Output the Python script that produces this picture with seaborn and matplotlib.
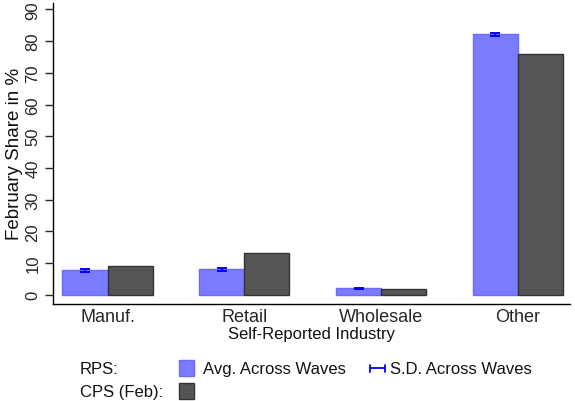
import pandas as pd
import seaborn as sns
import matplotlib.pyplot as plt
from matplotlib.patches import Rectangle
from matplotlib.lines import Line2D

# Datos
industrias = ['Manuf.', 'Retail', 'Wholesale', 'Other']
rps_media = [7.7, 8.0, 2.0, 82.1]
rps_sd = [0.35, 0.35, 0.2, 0.35]
cps_feb = [9.0, 13.3, 1.7, 75.8]
fuentes = ['RPS', 'CPS (Feb)']

color_rps = '#7b7bff'
color_cps = '#555555'

df = pd.DataFrame({
    'industria': industrias * 2,
    'share': rps_media + cps_feb,
    'fuente': [fuentes[0]] * 4 + [fuentes[1]] * 4,
})

sns.set_style('white')
plt.rcParams['font.family'] = ['Liberation Sans', 'DejaVu Sans']

fig = plt.figure(figsize=(5.75, 4.02), dpi=100)
ax = fig.add_axes([0.092, 0.242, 0.899, 0.748])

sns.barplot(data=df, x='industria', y='share', hue='fuente', order=industrias,
            hue_order=fuentes, palette=[color_rps, color_cps], width=0.66,
            legend=False, ax=ax, saturation=1)

for barra in ax.containers[0]:
    barra.set_edgecolor('#6a6aff')
    barra.set_linewidth(1)
for barra in ax.containers[1]:
    barra.set_edgecolor('#333333')
    barra.set_linewidth(1)

# barras de error (S.D.)
xs = [b.get_x() + b.get_width() / 2 for b in ax.containers[0]]
ax.errorbar(xs, rps_media, yerr=rps_sd, fmt='none', ecolor='#0000ff',
            elinewidth=1.4, capsize=3.5, capthick=1.4, zorder=5)

ax.set_xlim(-0.4, 3.38)
ax.set_ylim(-2.8, 92)
ax.set_yticks(range(0, 91, 10))
ax.tick_params(axis='y', labelrotation=90, labelsize=12, length=6, width=1,
               left=True, pad=3)
for t in ax.get_yticklabels():
    t.set_va('center')
ax.tick_params(axis='x', labelsize=13, length=0, pad=3)
ax.set_xlabel('Self-Reported Industry', fontsize=12, labelpad=1, color='#111111')
ax.set_ylabel('February Share in %', fontsize=13.5, labelpad=1.5, color='#111111')

for lado in ['top', 'right']:
    ax.spines[lado].set_visible(False)
for lado in ['left', 'bottom']:
    ax.spines[lado].set_color('#000000')
    ax.spines[lado].set_linewidth(1)

# leyenda manual
fs = 12
fig.text(80 / 575, 1 - 370 / 402, 'RPS:', fontsize=fs, va='center', color='#111111')
fig.text(80 / 575, 1 - 393 / 402, 'CPS (Feb):', fontsize=fs, va='center', color='#111111')
fig.add_artist(Rectangle((179 / 575, 1 - 377 / 402), 15 / 575, 16 / 402,
                         transform=fig.transFigure, facecolor=color_rps,
                         edgecolor='#6a6aff', lw=1))
fig.add_artist(Rectangle((179 / 575, 1 - 400 / 402), 15 / 575, 16 / 402,
                         transform=fig.transFigure, facecolor=color_cps,
                         edgecolor='#333333', lw=1))
fig.text(203 / 575, 1 - 370 / 402, 'Avg. Across Waves', fontsize=fs, va='center', color='#111111')
fig.add_artist(Line2D([370 / 575, 385 / 575], [1 - 369 / 402] * 2,
                      transform=fig.transFigure, color='#0000ff', lw=1.3))
for xc in [370, 385]:
    fig.add_artist(Line2D([xc / 575] * 2, [1 - 365.5 / 402, 1 - 372.5 / 402],
                          transform=fig.transFigure, color='#0000ff', lw=1.3))
fig.text(390 / 575, 1 - 370 / 402, 'S.D. Across Waves', fontsize=fs, va='center', color='#111111')

fig.savefig('out.png', dpi=100)
